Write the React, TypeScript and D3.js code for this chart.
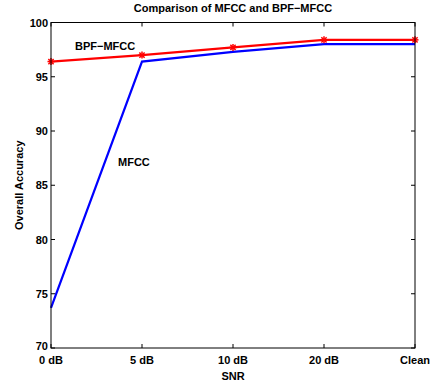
import React from "react";
import * as d3 from "d3";

const categories = ["0 dB", "5 dB", "10 dB", "20 dB", "Clean"];
const mfcc = [73.7, 96.4, 97.3, 98.0, 98.0];
const bpfMfcc = [96.4, 97.0, 97.7, 98.4, 98.4];
const yTicks = [70, 75, 80, 85, 90, 95, 100];

const W = 433, H = 387;
const M = { left: 51, right: 415, top: 22.5, bottom: 348 };

export default function App() {
  const x = d3.scalePoint<string>().domain(categories).range([M.left, M.right]);
  const y = d3.scaleLinear().domain([70, 100]).range([M.bottom, M.top]);
  const line = d3.line<number>().x((_, i) => x(categories[i])!).y((d) => y(d));
  const font = "'Liberation Sans', Arial, Helvetica, sans-serif";
  const star = (cx: number, cy: number, k: string) => {
    const r = 3.5;
    return (
      <g key={k} stroke="#ff0000" strokeWidth={1.5}>
        <line x1={cx - r} y1={cy} x2={cx + r} y2={cy} />
        <line x1={cx} y1={cy - r} x2={cx} y2={cy + r} />
        <line x1={cx - r * 0.75} y1={cy - r * 0.75} x2={cx + r * 0.75} y2={cy + r * 0.75} />
        <line x1={cx - r * 0.75} y1={cy + r * 0.75} x2={cx + r * 0.75} y2={cy - r * 0.75} />
      </g>
    );
  };
  return (
    <svg width={W} height={H} style={{ position: "absolute", left: 0, top: 0, background: "#fff" }} fontFamily={font} fontWeight="bold">
      <text x={(M.left + M.right) / 2} y={12} textAnchor="middle" fontSize={11}>Comparison of MFCC and BPF−MFCC</text>
      <path d={line(mfcc)!} fill="none" stroke="#0000ff" strokeWidth={2.2} />
      <path d={line(bpfMfcc)!} fill="none" stroke="#ff0000" strokeWidth={2.2} />
      {bpfMfcc.map((v, i) => star(x(categories[i])!, y(v), "s" + i))}
      <rect x={M.left} y={M.top} width={M.right - M.left} height={M.bottom - M.top} fill="none" stroke="#000" strokeWidth={1} />
      {yTicks.map((t) => (
        <g key={t}>
          <line x1={M.left} x2={M.left + 4} y1={y(t)} y2={y(t)} stroke="#000" />
          <line x1={M.right} x2={M.right - 4} y1={y(t)} y2={y(t)} stroke="#000" />
          <text x={M.left - 3} y={y(t) + (t === 70 ? 2 : 4)} textAnchor="end" fontSize={11}>{t}</text>
        </g>
      ))}
      {categories.map((c) => (
        <g key={c}>
          <line x1={x(c)!} x2={x(c)!} y1={M.bottom} y2={M.bottom - 4} stroke="#000" />
          <line x1={x(c)!} x2={x(c)!} y1={M.top} y2={M.top + 4} stroke="#000" />
          <text x={x(c)!} y={M.bottom + 16} textAnchor="middle" fontSize={11}>{c}</text>
        </g>
      ))}
      <text x={(M.left + M.right) / 2} y={380} textAnchor="middle" fontSize={11}>SNR</text>
      <text transform={`translate(23,${(M.top + M.bottom) / 2}) rotate(-90)`} textAnchor="middle" fontSize={11}>Overall Accuracy</text>
      <text x={75} y={50} fontSize={11}>BPF−MFCC</text>
      <text x={118} y={166} fontSize={11}>MFCC</text>
    </svg>
  );
}
